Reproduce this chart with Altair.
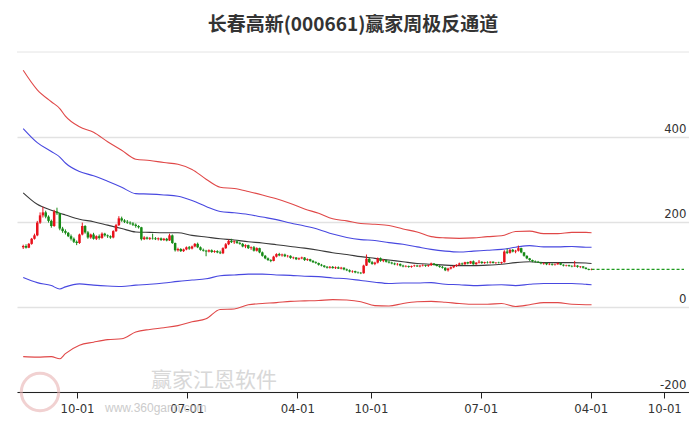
import altair as alt
import pandas as pd

# ---------------- data ----------------
START = "2022-05-20"   # first weekly candle

opens = [
    140, 143, 139, 148, 160, 168, 198, 215, 222, 212,
    202, 190, 224, 220, 184, 178, 174, 166, 160, 153,
    150, 170, 190, 175, 163, 170, 160, 166, 162, 172,
    168, 166, 163, 178, 192, 208, 203, 200, 198, 196,
    193, 190, 187, 159, 163, 160, 162, 161, 159, 161,
    157, 160, 156, 168, 150, 133, 136, 131, 135, 140,
    137, 142, 148, 140, 134, 132, 130, 133, 129, 131,
    128, 126, 138, 147, 155, 152, 154, 150, 148, 142,
    145, 138, 140, 132, 138, 128, 120, 114, 110, 108,
    118, 124, 121, 123, 119, 120, 115, 116, 112, 114,
    116, 110, 112, 108, 105, 103, 99, 97, 94, 92,
    94, 91, 93, 90, 92, 88, 86, 83, 84, 81,
    80, 79, 97, 113, 105, 101, 104, 114, 108, 110,
    106, 104, 102, 100, 101, 97, 95, 96, 94, 96,
    97, 95, 97, 98, 96, 98, 102, 99, 96, 94,
    92, 86, 90, 93, 96, 99, 102, 100, 105, 102,
    107, 100, 104, 106, 103, 105, 104, 106, 103, 104,
    103, 105, 130, 127, 134, 130, 132, 138, 128, 120,
    114, 110, 107, 106, 104, 102, 103, 100, 101, 99,
    100, 103, 99, 97, 98, 96, 95, 97, 94, 95,
    92, 89, 87,
]
highs = [
    146, 147, 150, 162, 172, 202, 222, 235, 226, 215,
    205, 228, 233, 221, 188, 182, 176, 170, 163, 156,
    172, 198, 192, 178, 172, 174, 168, 170, 175, 174,
    170, 168, 180, 195, 213, 212, 206, 204, 201, 199,
    196, 192, 188, 166, 165, 164, 172, 164, 163, 163,
    162, 162, 172, 170, 151, 139, 138, 137, 142, 143,
    144, 150, 151, 142, 137, 134, 135, 135, 133, 133,
    132, 140, 150, 158, 160, 156, 157, 153, 150, 147,
    146, 142, 143, 140, 139, 130, 122, 116, 112, 120,
    126, 127, 125, 125, 122, 121, 118, 117, 116, 118,
    117, 114, 113, 110, 107, 104, 101, 98, 96, 96,
    96, 95, 95, 94, 93, 90, 88, 86, 85, 83,
    82, 99, 123, 116, 108, 106, 116, 116, 112, 111,
    109, 106, 104, 103, 102, 99, 98, 97, 97, 99,
    99, 98, 100, 99, 99, 104, 103, 101, 98, 96,
    93, 92, 95, 98, 100, 104, 104, 106, 106, 108,
    109, 105, 110, 107, 106, 107, 107, 107, 105, 106,
    106, 133, 137, 136, 136, 134, 144, 139, 129, 121,
    115, 111, 109, 108, 106, 104, 104, 103, 102, 102,
    104, 104, 100, 99, 99, 98, 108, 98, 96, 96,
    93, 90, 90,
]
lows = [
    136, 137, 138, 146, 158, 166, 195, 210, 208, 198,
    186, 188, 216, 180, 174, 170, 164, 156, 150, 145,
    148, 168, 172, 160, 160, 158, 157, 158, 160, 165,
    162, 160, 161, 176, 190, 200, 197, 195, 193, 190,
    186, 184, 156, 157, 158, 157, 158, 157, 156, 155,
    155, 154, 155, 148, 130, 130, 129, 129, 133, 134,
    135, 140, 138, 132, 130, 119, 128, 127, 127, 126,
    124, 124, 136, 145, 150, 148, 148, 146, 140, 138,
    136, 134, 130, 130, 126, 118, 112, 108, 105, 107,
    116, 119, 118, 117, 116, 113, 112, 110, 110, 112,
    108, 108, 106, 103, 101, 97, 95, 92, 90, 90,
    90, 89, 89, 88, 86, 84, 81, 80, 79, 78,
    77, 78, 96, 103, 99, 98, 102, 106, 105, 104,
    102, 100, 98, 97, 95, 93, 93, 92, 92, 94,
    94, 93, 95, 94, 94, 96, 97, 95, 92, 90,
    84, 83, 88, 91, 94, 97, 98, 99, 100, 101,
    99, 99, 102, 101, 101, 102, 102, 102, 101, 102,
    101, 104, 124, 125, 128, 126, 130, 126, 118, 112,
    108, 105, 104, 103, 100, 99, 98, 98, 97, 97,
    99, 98, 95, 95, 94, 93, 94, 92, 91, 90,
    88, 86, 86,
]
closes = [
    143, 139, 148, 160, 168, 198, 215, 222, 212, 202,
    190, 224, 220, 184, 178, 174, 166, 160, 153, 150,
    170, 190, 175, 163, 170, 160, 166, 162, 172, 168,
    166, 163, 178, 192, 208, 203, 200, 198, 196, 193,
    190, 187, 159, 163, 160, 162, 161, 159, 161, 157,
    160, 156, 168, 150, 133, 136, 131, 135, 140, 137,
    142, 148, 140, 134, 132, 130, 133, 129, 131, 128,
    126, 138, 147, 155, 152, 154, 150, 148, 142, 145,
    138, 140, 132, 138, 128, 120, 114, 110, 108, 118,
    124, 121, 123, 119, 120, 115, 116, 112, 114, 116,
    110, 112, 108, 105, 103, 99, 97, 94, 92, 94,
    91, 93, 90, 92, 88, 86, 83, 84, 81, 80,
    79, 97, 113, 105, 101, 104, 114, 108, 110, 106,
    104, 102, 100, 101, 97, 95, 96, 94, 96, 97,
    95, 97, 98, 96, 98, 102, 99, 96, 94, 92,
    86, 90, 93, 96, 99, 102, 100, 105, 102, 107,
    100, 104, 106, 103, 105, 104, 106, 103, 104, 103,
    105, 130, 127, 134, 130, 132, 138, 128, 120, 114,
    110, 107, 106, 104, 102, 103, 100, 101, 99, 100,
    103, 99, 97, 98, 96, 95, 97, 94, 95, 92,
    89, 87, 88,
]

# channel lines, sampled at these week numbers (weeks after START)
chan_weeks = [0, 5, 10, 13, 15, 20, 25, 30, 35, 40, 45, 50, 55, 60, 65, 70,
              75, 80, 85, 90, 95, 100, 105, 110, 115, 120, 125, 130, 135, 140,
              145, 150, 155, 160, 165, 170, 175, 180, 185, 190, 195, 200, 202]
red_upper = [556, 510, 482, 466, 448, 423, 410, 388, 368, 347, 344, 339, 335, 323, 300, 281,
             278, 271, 263, 254, 243, 230, 220, 207, 202, 196, 194, 191, 183, 176,
             165, 162, 161, 162, 165, 167, 177, 178, 172, 172, 175, 175, 174]
blue_upper = [419, 386, 365, 352, 338, 318, 308, 295, 281, 266, 265, 263, 260, 250, 236, 224,
              221, 217, 211, 205, 197, 190, 182, 171, 163, 158, 156, 151, 147, 141,
              135, 131, 129, 131, 133, 135, 140, 144, 141, 141, 142, 140, 140]
mid_line = [268, 241, 227, 220, 216, 206, 200, 192, 184, 176, 175, 174, 174, 168, 164, 160,
            157, 153, 150, 146, 142, 138, 133, 127, 123, 118, 114, 110, 106, 102,
            100, 98, 97, 97, 98, 100, 104, 106, 104, 104, 104, 103, 102]
blue_lower = [69, 57, 50, 42, 47, 54, 51, 49, 48, 51, 53, 56, 60, 63, 66, 73,
              75, 77, 77, 75, 74, 72, 71, 68, 66, 62, 58, 55, 56, 56,
              57, 53, 52, 50, 51, 52, 50, 53, 55, 55, 55, 53, 52]
red_lower = [-117, -118, -117, -122, -110, -90, -83, -77, -75, -59, -53, -49, -44, -35, -28, -6,
             -5, 5, 8, 10, 13, 14, 15, 17, 16, 12, 3, 2, 8, 12,
             13, 11, 8, 6, 6, 8, 1, 5, 10, 10, 6, 5, 5]

x_tick_dates = ["2022-10-01", "2023-07-01", "2024-04-01", "2024-10-01",
                "2025-07-01", "2026-04-01", "2026-10-01"]
x_domain_dates = ["2022-05-17", "2026-11-19"]
y_ticks = [-200, 0, 200, 400]
y_domain = [-200, 580]

TITLE = "长春高新(000661)赢家周极反通道"

# ---------------- build tables ----------------
def ms(d):
    return int(pd.Timestamp(d, tz="UTC").value // 10**6)

start = pd.Timestamp(START, tz="UTC")
week_ms = 7 * 24 * 3600 * 1000
start_ms = int(start.value // 10**6)

candles = pd.DataFrame({
    "t": [start_ms + i * week_ms for i in range(len(closes))],
    "o": opens, "h": highs, "l": lows, "c": closes,
})
candles["lo"] = candles[["o", "c"]].min(axis=1)
candles["hi"] = candles[["o", "c"]].max(axis=1)

rows = []
for name, vals in [("ru", red_upper), ("bu", blue_upper), ("m", mid_line),
                   ("bl", blue_lower), ("rl", red_lower)]:
    for w, v in zip(chan_weeks, vals):
        rows.append({"t": start_ms + w * week_ms, "v": v, "s": name})
chan = pd.DataFrame(rows)

last = pd.DataFrame({"t": [candles["t"].iloc[-1]], "t2": [ms(x_domain_dates[1])],
                     "v": [closes[-1]]})

W, H = 672, 332
FONT = "Liberation Sans Narrow, DejaVu Sans Condensed, Arial, sans-serif"

xscale = alt.Scale(type="utc", domain=[ms(d) for d in x_domain_dates], nice=False)
yscale = alt.Scale(domain=y_domain, nice=False, zero=False)

x_axis = alt.Axis(values=[ms(d) for d in x_tick_dates],
                  labelExpr="utcFormat(datum.value, '%m-%d')",
                  grid=False, domainColor="#222", tickColor="#222", tickSize=6,
                  labelPadding=4, labelFont=FONT, labelFontSize=13, labelColor="#333",
                  labelFlush=False, labelOverlap=False)

y_axis = alt.Axis(values=y_ticks, orient="right", grid=True, gridColor="#e2e2e2",
                  gridWidth=1.5, domain=False, ticks=False, tickSize=0,
                  labelAlign="right", labelBaseline="bottom", labelPadding=-3,
                  labelOffset=-1, labelFont=FONT, labelFontSize=13, labelColor="#333",
                  labelExpr="datum.value < 0 ? '-' + abs(datum.value) : '' + datum.value")


def xe(field="t"):
    return alt.X(f"{field}:T", scale=xscale, axis=x_axis, title=None)


def ye(field):
    return alt.Y(f"{field}:Q", scale=yscale, axis=y_axis, title=None)


colors = {"ru": "#e04848", "bu": "#4848e0", "m": "#3a3a3a", "bl": "#4848e0", "rl": "#e04848"}
lines = []
for s, col in colors.items():
    lines.append(
        alt.Chart(chan[chan.s == s]).mark_line(color=col, strokeWidth=1.1,
                                               interpolate="monotone").encode(
            x=xe(), y=ye("v")))

up_col, down_col = "#e8121c", "#168a16"
col_cond = alt.condition("datum.c >= datum.o", alt.value(up_col), alt.value(down_col))

wicks = alt.Chart(candles).mark_rule(strokeWidth=1).encode(
    x=xe(), y=ye("l"), y2="h:Q", color=col_cond)
bodies = alt.Chart(candles).mark_bar(size=2.5).encode(
    x=xe(), y=ye("lo"), y2="hi:Q", color=col_cond)

dash = alt.Chart(last).mark_rule(color="#1f9a1f", strokeWidth=1.3, strokeDash=[3, 2]).encode(
    x=xe(), x2="t2:T", y=ye("v"))

sep = alt.Chart(pd.DataFrame({"a": [0]})).mark_rule(color="#e4e4e4", strokeWidth=1).encode(
    x=alt.value(0), x2=alt.value(W), y=alt.value(-8))

wm1 = alt.Chart(pd.DataFrame({"t": ["赢家江恩软件"]})).mark_text(
    font="Noto Sans CJK SC", fontSize=21, color="#c8c8c8", opacity=0.7, align="left",
    baseline="middle").encode(x=alt.value(134), y=alt.value(321), text="t:N")
wm2 = alt.Chart(pd.DataFrame({"t": ["www.360gann.com"]})).mark_text(
    font="Liberation Sans", fontSize=12, color="#c0c0c0", opacity=0.8, align="left",
    baseline="middle").encode(x=alt.value(88), y=alt.value(348), text="t:N")
logo = alt.Chart(pd.DataFrame({"a": [0]})).mark_point(
    shape="circle", size=1400, filled=False, color="#e9b3b3", strokeWidth=3,
    opacity=0.6).encode(x=alt.value(23), y=alt.value(332))

chart = alt.layer(*lines, wicks, bodies, dash, sep, wm1, wm2, logo).properties(
    width=W, height=H,
    title=alt.TitleParams(TITLE, font="Noto Sans CJK SC", fontSize=19, fontWeight="bold",
                          color="#333", anchor="middle", offset=17),
    padding={"left": 17, "top": 60, "right": 0, "bottom": 35},
    autosize=alt.AutoSizeParams(type="none"),
    background="white",
).configure_view(stroke=None)

chart.save("out.html", embed_options={"renderer": "svg", "actions": False})
